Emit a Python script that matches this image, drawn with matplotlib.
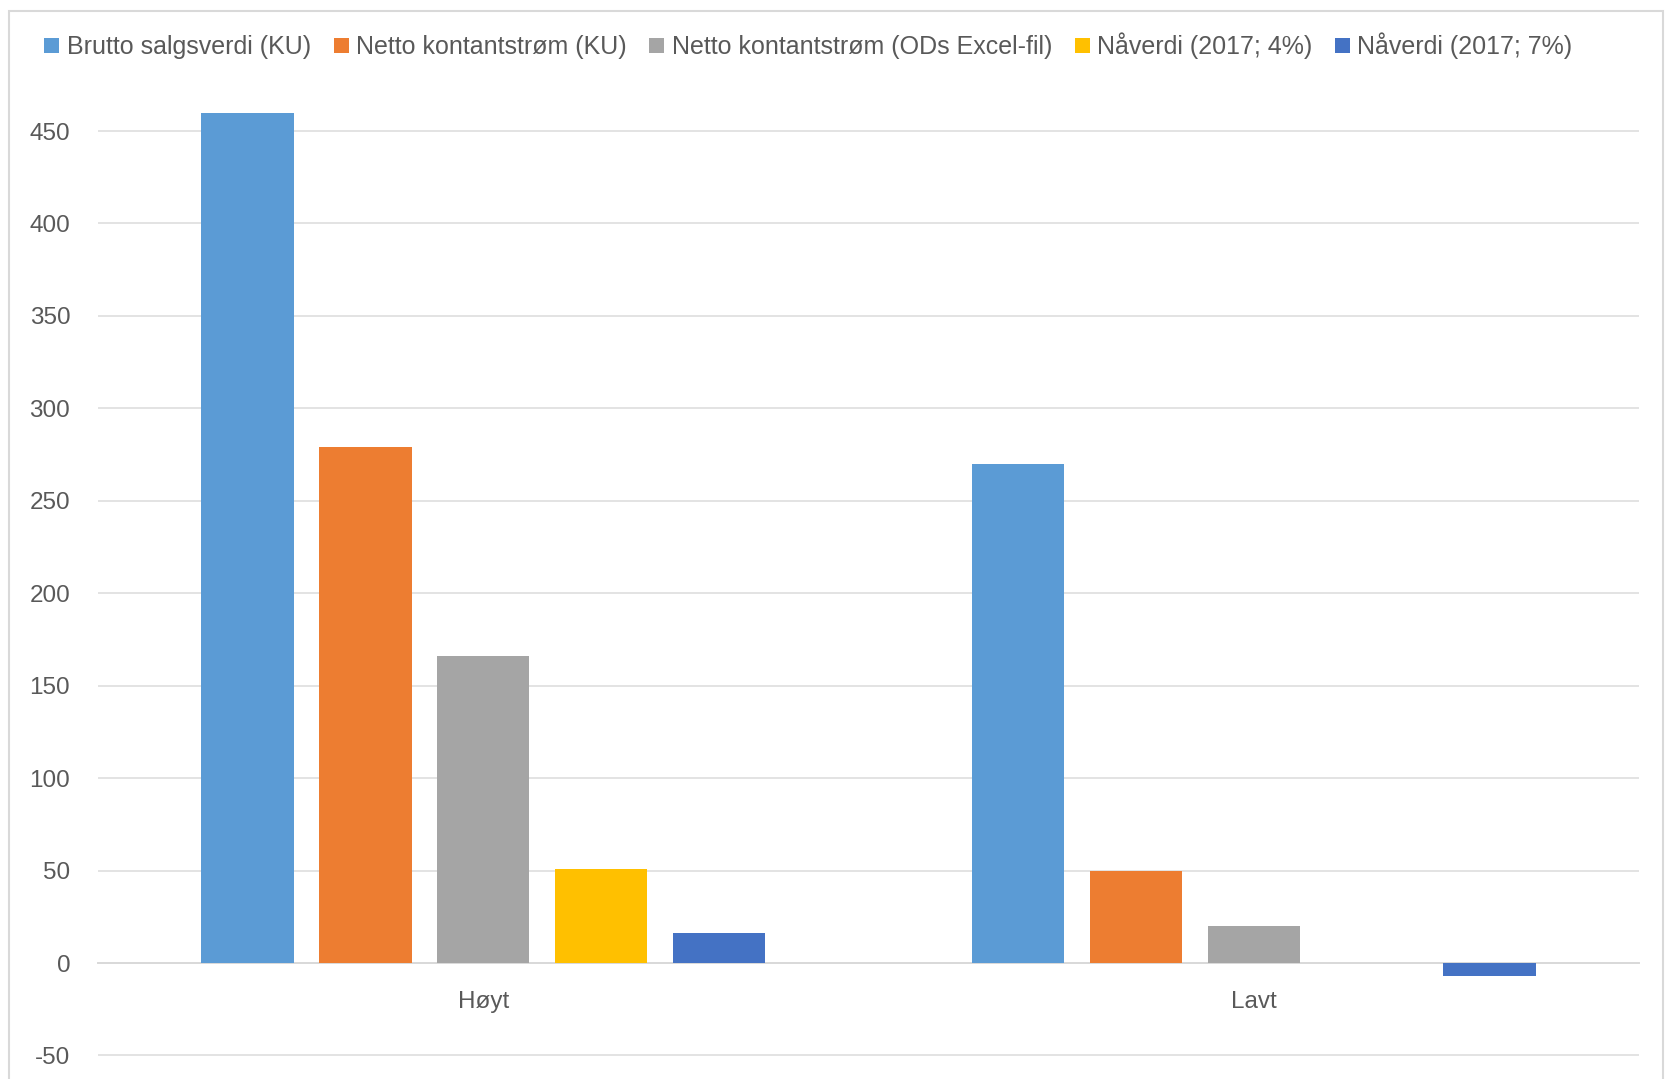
import matplotlib
matplotlib.use("Agg")
import matplotlib.pyplot as plt
from matplotlib.patches import Rectangle, Patch
import numpy as np

categories = ["Høyt", "Lavt"]
series_names = [
    "Brutto salgsverdi (KU)",
    "Netto kontantstrøm (KU)",
    "Netto kontantstrøm (ODs Excel-fil)",
    "Nåverdi (2017; 4%)",
    "Nåverdi (2017; 7%)",
]
brutto_salgsverdi = [460, 270]
netto_kontantstrom_ku = [279, 50]
netto_kontantstrom_od = [166, 20]
naverdi_4 = [51, 0]
naverdi_7 = [16, -7]
series_values = [brutto_salgsverdi, netto_kontantstrom_ku, netto_kontantstrom_od, naverdi_4, naverdi_7]
colors = ["#5B9BD5", "#ED7D31", "#A5A5A5", "#FFC000", "#4472C4"]
yticks = [-50, 0, 50, 100, 150, 200, 250, 300, 350, 400, 450]

plt.rcParams['font.family'] = ['Liberation Sans', 'DejaVu Sans']
plt.rcParams['axes.unicode_minus'] = False

W, H = 1667, 1079
fig = plt.figure(figsize=(W / 100, H / 100), dpi=100)
fig.patch.set_facecolor("white")

# outer chart frame
frame = Rectangle((9 / W, -0.1), (1663 - 9) / W, 1.1 - 11 / H, transform=fig.transFigure,
                  facecolor="none", edgecolor="#D9D9D9", lw=1.5, zorder=0)
fig.patches.append(frame)

ymin, ymax = -60, 462
px_per_unit = (963 - 131) / 450
top_px = 963 - ymax * px_per_unit
bot_px = 963 - ymin * px_per_unit
ax = fig.add_axes([98 / W, 1 - bot_px / H, (1639 - 98) / W, (bot_px - top_px) / H])
ax.set_facecolor("none")

x = np.arange(len(categories))
bw = 0.12
step = 0.153
n = len(series_names)
for i, (name, vals, c) in enumerate(zip(series_names, series_values, colors)):
    offs = (i - (n - 1) / 2) * step
    ax.bar(x + offs, vals, width=bw, color=c, label=name, zorder=3, linewidth=0)

ax.set_xlim(-0.5, len(categories) - 0.5)
ax.set_ylim(ymin, ymax)
ax.set_yticks(yticks)
ax.yaxis.grid(True, color="#E3E3E3", lw=1.4, zorder=0)
ax.set_axisbelow(True)
for s in ["top", "right", "left"]:
    ax.spines[s].set_visible(False)
ax.spines["bottom"].set_position(("data", 0))
ax.spines["bottom"].set_color("#D9D9D9")
ax.spines["bottom"].set_linewidth(1.4)
ax.set_xticks(x)
ax.set_xticklabels(categories)
ax.tick_params(axis="x", length=0, pad=20, labelsize=17.5, labelcolor="#595959")
ax.tick_params(axis="y", length=0, pad=20, labelsize=17.5, labelcolor="#595959")

handles = [Patch(facecolor=c, edgecolor="none") for c in colors]
fig.legend(handles, series_names, loc="center", bbox_to_anchor=(0.485, 1 - 46 / H), ncol=5,
           frameon=False, fontsize=18, handlelength=0.6, handleheight=0.6,
           handletextpad=0.3, columnspacing=0.9, labelcolor="#595959")

fig.savefig("out.png", dpi=100)
